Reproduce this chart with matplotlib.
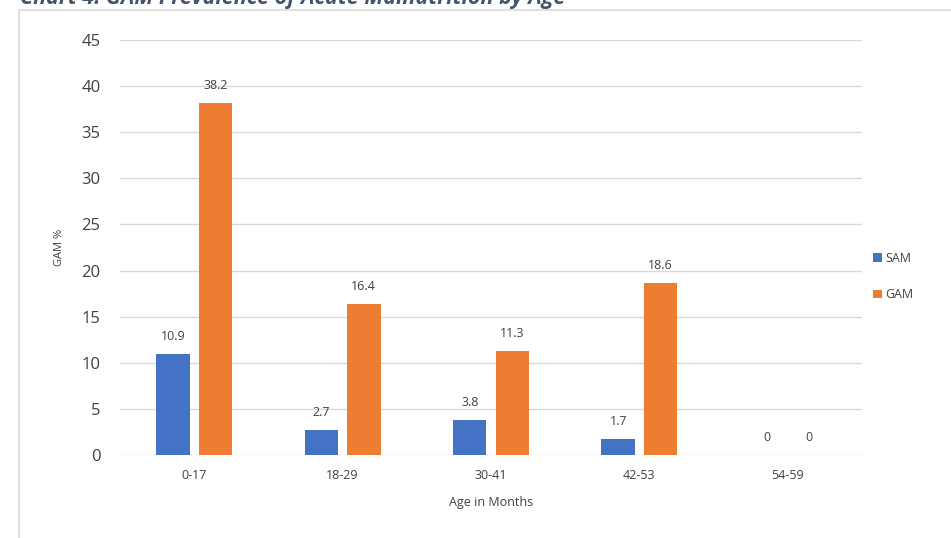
import matplotlib.pyplot as plt
import numpy as np
from matplotlib.patches import Rectangle

age_groups = ['0-17', '18-29', '30-41', '42-53', '54-59']
sam = [10.9, 2.7, 3.8, 1.7, 0]
gam = [38.2, 16.4, 11.3, 18.6, 0]

plt.rcParams['font.family'] = ['Open Sans', 'DejaVu Sans']

fig = plt.figure(figsize=(9.51, 5.38), dpi=100)
fig.patch.set_facecolor('white')

# outer chart frame
fig.add_artist(Rectangle((19 / 951, -0.01), 1.0, 1 - 10 / 538 + 0.01,
                         transform=fig.transFigure, fill=False,
                         edgecolor='#d9d9d9', linewidth=1.2))

fig.text(20 / 951, 1 - 4 / 538, 'Chart 4: GAM Prevalence of Acute Malnutrition by Age',
         fontsize=15.5, fontweight='bold', style='italic', color='#44546a',
         ha='left', va='baseline')

ax = fig.add_axes([120 / 951, 1 - 455 / 538, 742 / 951, 415 / 538])
x = np.arange(len(age_groups))
w = 0.225
b1 = ax.bar(x - 0.143, sam, w, color='#4472C4', label='SAM', zorder=3)
b2 = ax.bar(x + 0.143, gam, w, color='#ED7D31', label='GAM', zorder=3)

for bars, vals in ((b1, sam), (b2, gam)):
    for r, v in zip(bars, vals):
        ax.annotate(f'{v:g}', (r.get_x() + r.get_width() / 2, v),
                    xytext=(0, 8), textcoords='offset points',
                    ha='center', va='bottom', fontsize=9, color='#404040')

ax.set_xlim(-0.5, len(age_groups) - 0.5)
ax.set_ylim(0, 45)
ax.set_yticks(range(0, 46, 5))
ax.set_xticks(x)
ax.set_xticklabels(age_groups)
ax.tick_params(axis='y', labelsize=12, colors='#404040', length=0, pad=14)
ax.tick_params(axis='x', labelsize=9, colors='#404040', length=0, pad=10)
ax.grid(axis='y', color='#d9d9d9', linewidth=1, zorder=0)
for s in ax.spines.values():
    s.set_visible(False)
ax.set_ylabel('GAM %', fontsize=8, color='#404040', labelpad=12)
ax.set_xlabel('Age in Months', fontsize=9, color='#404040', labelpad=10)

ax.legend(loc='center left', bbox_to_anchor=(1.0, 0.43), frameon=False,
          fontsize=9, labelcolor='#404040', handlelength=0.7, handleheight=0.7,
          handletextpad=0.3, labelspacing=1.9)

fig.savefig('out.png', dpi=100)
